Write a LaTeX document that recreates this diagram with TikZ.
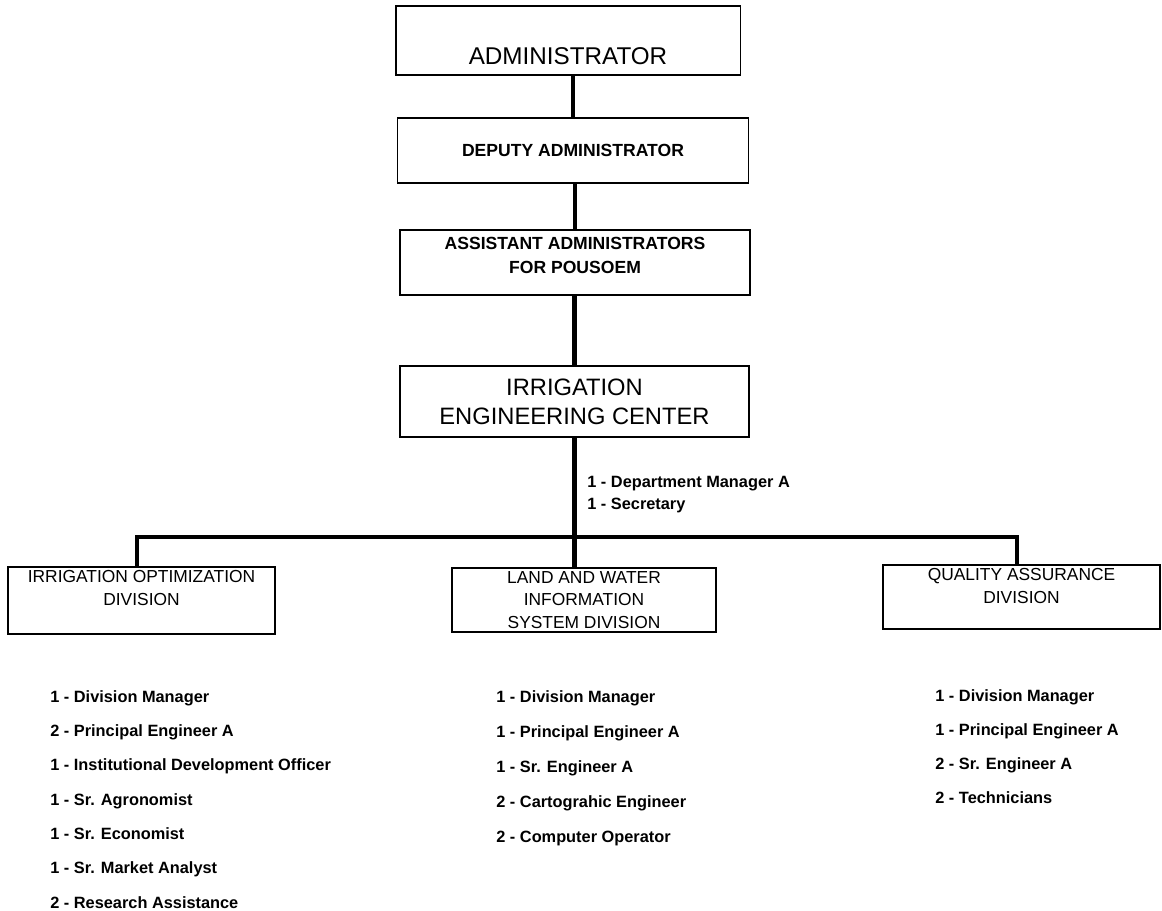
\documentclass[tikz,border=0pt]{standalone}
\usepackage{fontspec}
\setmainfont{Liberation Sans}
\usetikzlibrary{positioning}

\begin{document}
\begin{tikzpicture}[x=0.02cm, y=-0.02cm,
    box/.style={draw, line width=0.9pt, align=center, inner sep=2pt},
    divbox/.style={box, font=\fontsize{9.9}{13}\selectfont},
    link/.style={line width=2.4pt},
    staff/.style={anchor=base west, font=\fontsize{9.3}{10}\selectfont\bfseries, inner sep=0pt}]
  \useasboundingbox (0,0) rectangle (1162,911);

  % Top of the chain
  \node[box, line width=1.1pt, minimum width=6.9cm, minimum height=1.38cm, text height=0.95cm,
        font=\fontsize{13.8}{16}\selectfont] (admin) at (568,40.5) {ADMINISTRATOR};
  \node[box, minimum width=7.02cm, minimum height=1.3cm,
        font=\fontsize{10}{12}\selectfont\bfseries] (deputy) at (573,150.5) {DEPUTY ADMINISTRATOR};
  \node[box, minimum width=7cm, minimum height=1.3cm, text depth=0.3cm,
        font=\fontsize{10}{13.6}\selectfont\bfseries] (assist) at (575,262.5) {ASSISTANT ADMINISTRATORS\\FOR POUSOEM};

  % Center
  \node[box, minimum width=6.98cm, minimum height=1.42cm,
        font=\fontsize{13.5}{16.5}\selectfont] (iec) at (574.5,401.5) {IRRIGATION\\ENGINEERING CENTER};

  \draw[link] (deputy.north) -- (deputy.north |- admin.south);
  \draw[link] (assist.north) -- (assist.north |- deputy.south);
  \draw[link] (iec.north) -- (iec.north |- assist.south);

  % Center staff
  \node[staff] (mgr) at (587,488) {1 - Department Manager A};
  \node[staff] (sec) at (587,510) {1 - Secretary};

  % Divisions
  \node[divbox, minimum width=5.34cm, minimum height=1.3cm, text depth=0.5cm]
    (optdiv) at (141.5,600.5) {IRRIGATION OPTIMIZATION\\DIVISION};
  \node[divbox, minimum width=5.28cm, minimum height=1.28cm, inner ysep=0pt,
        font=\fontsize{9.9}{12.8}\selectfont]
    (lwdiv) at (584,600) {LAND AND WATER\\INFORMATION\\SYSTEM DIVISION};
  \node[divbox, minimum width=5.54cm, minimum height=1.2cm, text depth=0.45cm]
    (qadiv) at (1021.5,597) {QUALITY ASSURANCE\\DIVISION};

  % Bus
  \coordinate (barL) at (137,537);
  \coordinate (barR) at (1017,537);
  \draw[link] (iec.south) -- (iec.south |- lwdiv.north);
  \draw[link] (barL |- optdiv.north) -- (barL) -- (barR) -- (barR |- qadiv.north);

  % Division staff
  \foreach \txt [count=\i] in {1 - Division Manager, 2 - Principal Engineer A,
      1 - Institutional Development Officer, 1 - Sr. Agronomist, 1 - Sr. Economist,
      1 - Sr. Market Analyst, 2 - Research Assistance}
    \node[staff] (opt\i) at (50,668+34.3*\i) {\txt};
  \foreach \txt [count=\i] in {1 - Division Manager, 1 - Principal Engineer A,
      1 - Sr. Engineer A, 2 - Cartograhic Engineer, 2 - Computer Operator}
    \node[staff] (lw\i) at (496,668+34.8*\i) {\txt};
  \foreach \txt [count=\i] in {1 - Division Manager, 1 - Principal Engineer A,
      2 - Sr. Engineer A, 2 - Technicians}
    \node[staff] (qa\i) at (935,667+34*\i) {\txt};
\end{tikzpicture}
\end{document}
